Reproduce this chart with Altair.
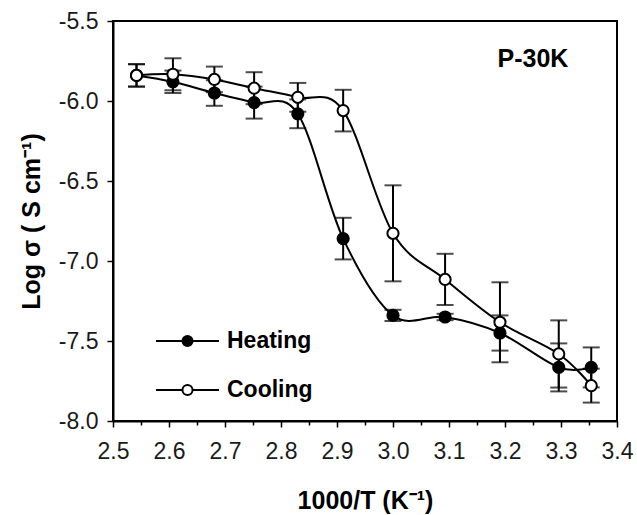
import altair as alt
import pandas as pd

# ---- data ----
inv_T = [2.542, 2.607, 2.681, 2.752, 2.830, 2.911, 3.000, 3.093, 3.191, 3.296, 3.354]
heating = [-5.84, -5.88, -5.95, -6.01, -6.08, -6.86, -7.34, -7.35, -7.45, -7.665, -7.665]
heating_err = [0.07, 0.07, 0.08, 0.10, 0.09, 0.13, 0.035, 0.02, 0.11, 0.15, 0.125]
cooling = [-5.84, -5.833, -5.865, -5.92, -5.977, -6.06, -6.827, -7.115, -7.383, -7.581, -7.779]
cooling_err = [0.07, 0.10, 0.08, 0.10, 0.09, 0.13, 0.30, 0.16, 0.25, 0.21, 0.106]
series = ["Heating", "Cooling"]
series_fill = ["black", "white"]

x_ticks = [2.5, 2.55, 2.6, 2.65, 2.7, 2.75, 2.8, 2.85, 2.9, 2.95, 3.0,
           3.05, 3.1, 3.15, 3.2, 3.25, 3.3, 3.35, 3.4]
y_ticks = [-8.0, -7.5, -7.0, -6.5, -6.0, -5.5]

note_text = ["P-30K"]
note_x = [3.25]
note_y = [-5.785]

# ---- tables ----
rows = []
for name, ys, es, k in [("Heating", heating, heating_err, 0), ("Cooling", cooling, cooling_err, 1)]:
    for x, y, e in zip(inv_T, ys, es):
        rows.append({"series": name, "k": k, "x": x, "y": y,
                     "ymin": y - e, "ymax": y + e})
df = pd.DataFrame(rows)
notes = pd.DataFrame({"text": note_text, "x": note_x, "y": note_y})

FONT = "Liberation Sans"
major = "round(datum.value*20) % 2 == 0"

x_axis = alt.Axis(
    values=x_ticks,
    title="1000/T (K⁻¹)",
    labelExpr=f"{major} ? format(datum.value, '.1f') : ''",
    tickSize={"condition": {"test": major, "value": 6}, "value": 4},
    labelFlush=False,
    labelPadding=13,
    titlePadding=25,
)
y_axis = alt.Axis(
    values=y_ticks,
    title="Log σ ( S cm⁻¹)",
    titleFontSize=25,
    labelExpr="(datum.value < 0 ? '-' : '') + format(abs(datum.value), '.1f')",
    tickSize=6,
    labelFlush=False,
    labelPadding=9,
    titlePadding=14,
)
x_scale = alt.Scale(domain=[2.5, 3.4], nice=False, zero=False)
y_scale = alt.Scale(domain=[-8.0, -5.5], nice=False, zero=False)


def X(field):
    return alt.X(f"{field}:Q", scale=x_scale, axis=x_axis)


def Y(field):
    return alt.Y(f"{field}:Q", scale=y_scale, axis=y_axis)


base = alt.Chart(df)

lines = base.mark_line(interpolate="cardinal", color="black", strokeWidth=2).encode(
    x=X("x"), y=Y("y"), detail="series:N"
)

rules = base.mark_rule(color="black", strokeWidth=2).encode(
    x=X("x"), y=Y("ymin"), y2="ymax:Q"
)

caps = base.transform_fold(["ymin", "ymax"], as_=["end", "yv"]).mark_tick(
    orient="horizontal", size=17, thickness=2, color="black"
).encode(x=X("x"), y=Y("yv"))

legend_path = ("M-1,0H-0.16M0.16,0H1"
               "M-0.16,0A0.16,0.16,0,1,1,0.16,0A0.16,0.16,0,1,1,-0.16,0Z")

points = base.mark_point(
    filled=True, size=125, stroke="black", strokeWidth=2, opacity=1
).encode(
    x=X("x"),
    y=Y("y"),
    fill=alt.Fill(
        "series:N",
        scale=alt.Scale(domain=series, range=series_fill),
        legend=alt.Legend(
            title=None,
            orient="none",
            legendX=42,
            legendY=310,
            symbolType=legend_path,
            symbolSize=3969,
            symbolStrokeWidth=2,
            symbolStrokeColor="black",
            symbolOpacity=1,
            labelFont=FONT,
            labelFontSize=23,
            labelFontWeight="bold",
            labelColor="black",
            labelOffset=7,
            clipHeight=20,
            rowPadding=26,
            padding=0,
        ),
    ),
    order=alt.Order("k:Q"),
)

label = alt.Chart(notes).mark_text(
    font=FONT, fontSize=25, fontWeight="bold", color="black",
    align="center", baseline="alphabetic"
).encode(x=X("x"), y=Y("y"), text="text:N")

chart = (
    alt.layer(lines, rules, caps, points, label)
    .properties(
        width=504,
        height=400,
        background="white",
        autosize=alt.AutoSizeParams(type="none"),
        padding={"left": 113, "top": 21, "right": 20, "bottom": 94},
    )
    .configure_view(stroke="black", strokeWidth=2)
    .configure_axis(
        domainColor="black",
        domainWidth=2,
        tickColor="black",
        tickWidth=1.5,
        labelFont=FONT,
        labelFontSize=23,
        labelColor="#1a1a1a",
        titleFont=FONT,
        titleFontSize=25,
        titleFontWeight="bold",
        titleColor="black",
        grid=False,
    )
)

chart.save("out.html", embed_options={"renderer": "svg", "actions": False})
